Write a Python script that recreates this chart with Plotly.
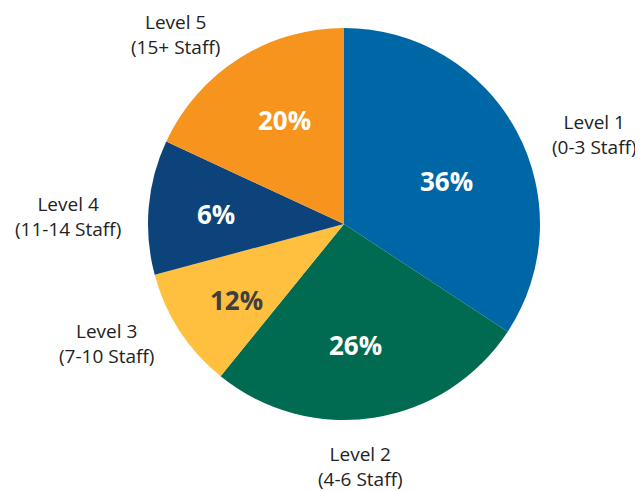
import plotly.graph_objects as go

# Data
levels = ["Level 1", "Level 2", "Level 3", "Level 4", "Level 5"]
staff_ranges = ["(0-3 Staff)", "(4-6 Staff)", "(7-10 Staff)", "(11-14 Staff)", "(15+ Staff)"]
slice_shares = [34.3, 26.6, 10.0, 11.1, 18.1]   # slice sizes as drawn
pct_labels = ["36%", "26%", "12%", "6%", "20%"]  # printed labels
colors = ["#0067A6", "#006B50", "#FFC03F", "#0B437A", "#F7941E"]
text_colors = ["white", "white", "#3F3F3F", "white", "white"]

# page is drawn with an 8px body margin; work in page pixels and convert
OFF = 8
W, H = 643 - OFF, 491 - OFF
cx, cy, r = 344, 224, 196


def px2paper(x, y):
    return (x - OFF) / W, 1 - (y - OFF) / H


x0, y1 = px2paper(cx - r, cy - r)
x1, y0 = px2paper(cx + r, cy + r)

fig = go.Figure(go.Pie(
    labels=levels,
    values=slice_shares,
    textinfo="none",
    sort=False,
    direction="clockwise",
    rotation=0,
    marker=dict(colors=colors, line=dict(width=0)),
    domain=dict(x=[x0, x1], y=[y0, y1]),
    showlegend=False,
    hovertext=pct_labels,
    hoverinfo="label+text",
))

# percentage labels inside slices (page pixel centers)
pct_pos = [(447, 181), (355, 345), (236, 300), (216, 214), (284, 120)]
for t, c, (px, py) in zip(pct_labels, text_colors, pct_pos):
    ax, ay = px2paper(px, py)
    fig.add_annotation(
        x=ax, y=ay, xref="paper", yref="paper", text=f"<b>{t}</b>",
        showarrow=False, xanchor="center", yanchor="middle",
        font=dict(family="Open Sans", size=26, color=c),
    )

# outside category labels (page pixel centers of the two-line blocks)
label_pos = [(594, 135), (360, 466), (106, 343), (68, 216), (175, 35)]
for lv, sr, (px, py) in zip(levels, staff_ranges, label_pos):
    ax, ay = px2paper(px, py)
    fig.add_annotation(
        x=ax, y=ay, xref="paper", yref="paper",
        text=f"{lv}<br>{sr}", showarrow=False,
        xanchor="center", yanchor="middle",
        font=dict(family="Open Sans", size=19, color="#222222"),
    )

fig.update_layout(
    width=W, height=H,
    margin=dict(l=0, r=0, t=0, b=0),
    paper_bgcolor="white", plot_bgcolor="white",
)

fig.write_html("out.html")
